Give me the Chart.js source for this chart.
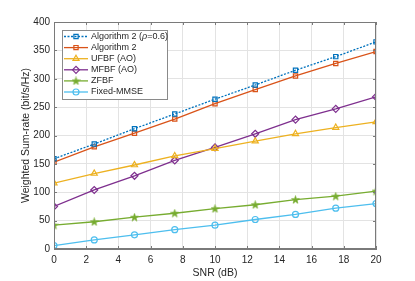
<!DOCTYPE html>
<html>
<head>
<meta charset="utf-8">
<script src="https://cdn.jsdelivr.net/npm/chart.js@4/dist/chart.umd.min.js"></script>
<style>
html,body{margin:0;padding:0;background:#fff;}
#wrap{width:415px;height:281px;position:relative;}
</style>
</head>
<body>
<div id="wrap"><canvas id="rateChart"></canvas></div>
<script>
// data
var snr = [0, 2.5, 5, 7.5, 10, 12.5, 15, 17.5, 20];
var alg2Rho = [159, 185, 212, 238, 264, 289, 315, 339, 365];
var alg2 = [153, 180, 204, 229, 256, 281, 305, 327, 348];
var ufbf = [116, 133, 148, 164, 177, 190, 203, 214, 224];
var mfbf = [75, 104, 129, 156, 179, 203, 228, 247, 268];
var zfbf = [42, 48, 56, 63, 71, 78, 87, 93, 102];
var fixedMmse = [6, 16, 25, 34, 42, 52, 61, 72, 80];
var xTicks = [0, 2, 4, 6, 8, 10, 12, 14, 16, 18, 20];
var yTicks = [0, 50, 100, 150, 200, 250, 300, 350, 400];

var FONT = "'Liberation Sans', Arial, sans-serif";
var TXT = '#262626';
var AXIS = '#7a7a7a';

function pts(arr) {
	return snr.map(function (x, i) { return { x: x, y: arr[i] }; });
}

// matlab style pentagram marker
function makeStar(color) {
	var c = document.createElement('canvas');
	c.width = 9; c.height = 9;
	var g = c.getContext('2d');
	g.beginPath();
	for (var i = 0; i < 10; i++) {
		var r = i % 2 ? 1.7 : 4.2;
		var a = -Math.PI / 2 + i * Math.PI / 5;
		g.lineTo(4.5 + r * Math.cos(a), 4.8 + r * Math.sin(a));
	}
	g.closePath();
	g.fillStyle = color; g.fill();
	g.strokeStyle = color; g.lineWidth = 0.6; g.stroke();
	return c;
}

function series(label, arr, color, style, dash) {
	return {
		label: label,
		data: pts(arr),
		borderColor: color,
		backgroundColor: 'rgba(0,0,0,0)',
		borderWidth: 1.3,
		borderDash: dash || [],
		pointStyle: style,
		pointRadius: 3,
		pointBorderWidth: 1.2,
		pointBorderColor: color,
		pointBackgroundColor: 'rgba(0,0,0,0)',
		tension: 0,
		fill: false
	};
}

var datasets = [
	series('Algorithm 2 (\u03c1=0.6)', alg2Rho, '#0072BD', 'rect', [2, 1.5]),
	series('Algorithm 2', alg2, '#D95319', 'rect'),
	series('UFBF (AO)', ufbf, '#EDB120', 'triangle'),
	series('MFBF (AO)', mfbf, '#7E2F8E', 'rectRot'),
	series('ZFBF', zfbf, '#77AC30', makeStar('#77AC30')),
	series('Fixed-MMSE', fixedMmse, '#4DBEEE', 'circle')
];
datasets[2].pointRadius = 3.5;
datasets[3].pointRadius = 3.5;

// box, inward ticks and legend in matlab look
var matlabBox = {
	id: 'matlabBox',
	afterDatasetsDraw: function (chart) {
		var ctx = chart.ctx, a = chart.chartArea;
		var xs = chart.scales.x, ys = chart.scales.y;
		ctx.save();
		ctx.strokeStyle = AXIS;
		ctx.lineWidth = 1;
		ctx.strokeRect(a.left + 0.5, a.top + 0.5, a.right - a.left - 1, a.bottom - a.top - 1);
		ctx.beginPath();
		xTicks.forEach(function (v) {
			var px = Math.round(xs.getPixelForValue(v)) + 0.5;
			ctx.moveTo(px, a.bottom); ctx.lineTo(px, a.bottom - 3);
			ctx.moveTo(px, a.top); ctx.lineTo(px, a.top + 3);
		});
		yTicks.forEach(function (v) {
			var py = Math.round(ys.getPixelForValue(v)) + 0.5;
			ctx.moveTo(a.left, py); ctx.lineTo(a.left + 3, py);
			ctx.moveTo(a.right, py); ctx.lineTo(a.right - 3, py);
		});
		ctx.stroke();

		// legend
		var lx = 62, ly = 30, lw = 105, lh = 69, rowH = 11.1;
		ctx.fillStyle = '#fff';
		ctx.fillRect(lx, ly, lw, lh);
		ctx.strokeStyle = '#8a8a8a';
		ctx.strokeRect(lx + 0.5, ly + 0.5, lw, lh);
		chart.data.datasets.forEach(function (ds, i) {
			var cy = ly + 6.5 + i * rowH;
			ctx.strokeStyle = ds.borderColor;
			ctx.lineWidth = 1.3;
			ctx.setLineDash(ds.borderDash);
			ctx.beginPath();
			ctx.moveTo(lx + 2, cy); ctx.lineTo(lx + 26, cy);
			ctx.stroke();
			ctx.setLineDash([]);
			ctx.lineWidth = 1.2;
			ctx.fillStyle = 'rgba(0,0,0,0)';
			Chart.helpers.drawPoint(ctx, { pointStyle: ds.pointStyle, radius: ds.pointRadius, rotation: 0, borderWidth: 1.2 }, lx + 14, cy);
			ctx.fillStyle = TXT;
			ctx.textBaseline = 'middle';
			ctx.textAlign = 'left';
			var tx = lx + 29;
			if (i === 0) {
				var parts = [['Algorithm 2 (', ''], ['\u03c1', 'italic '], ['=0.6)', '']];
				parts.forEach(function (p) {
					ctx.font = p[1] + '9px ' + FONT;
					ctx.fillText(p[0], tx, cy);
					tx += ctx.measureText(p[0]).width;
				});
			} else {
				ctx.font = '9px ' + FONT;
				ctx.fillText(ds.label, tx, cy);
			}
		});
		ctx.restore();
	}
};

var ctx = document.getElementById('rateChart').getContext('2d');
var chart = new Chart(ctx, {
	type: 'line',
	data: { datasets: datasets },
	options: {
		responsive: true,
		maintainAspectRatio: false,
		animation: false,
		layout: { padding: { left: 0, top: 22, right: 39, bottom: 0 } },
		plugins: {
			legend: { display: false },
			tooltip: { enabled: false }
		},
		scales: {
			x: {
				type: 'linear',
				min: 0,
				max: 20,
				afterBuildTicks: function (s) { s.ticks = xTicks.map(function (v) { return { value: v }; }); },
				afterFit: function (s) { s.height = 32; },
				grid: { color: '#e3e3e3', drawTicks: false },
				border: { color: AXIS },
				ticks: { color: TXT, padding: 5, maxRotation: 0, font: { family: FONT, size: 10 } },
				title: { display: true, text: 'SNR (dB)', color: TXT, padding: { top: 0, bottom: 2 }, font: { family: FONT, size: 10.5 } }
			},
			y: {
				min: 0,
				max: 400,
				afterBuildTicks: function (s) { s.ticks = yTicks.map(function (v) { return { value: v }; }); },
				afterFit: function (s) { s.width = 54; },
				grid: { color: '#e3e3e3', drawTicks: false },
				border: { color: AXIS },
				ticks: { color: TXT, padding: 4, font: { family: FONT, size: 10 } },
				title: { display: true, text: 'Weighted Sum-rate (bit/s/Hz)', color: TXT, padding: { top: 20, bottom: 0 }, font: { family: FONT, size: 10.5 } }
			}
		}
	},
	plugins: [matlabBox]
});
</script>
</body>
</html>
